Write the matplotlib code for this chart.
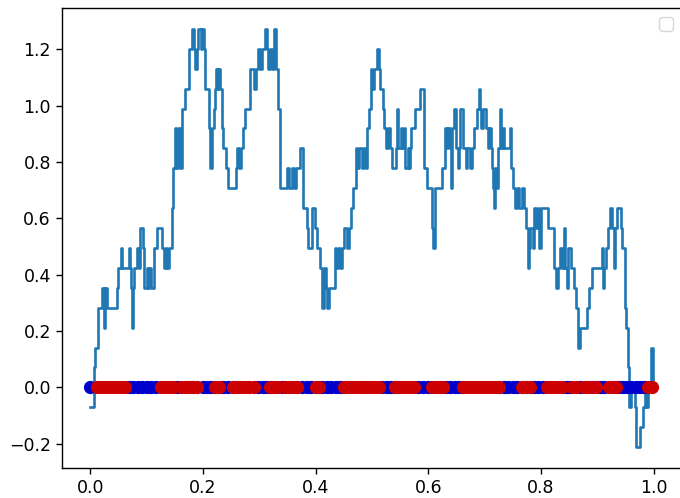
import numpy as np
import matplotlib
matplotlib.use('Agg')
import matplotlib.pyplot as plt

# ── Step path: jump positions and level (in units of one step) ───────────────
step = 0.0707

path_x = [
    0.000, 0.006, 0.008, 0.013, 0.021, 0.024, 0.025, 0.027, 0.030, 0.047,
    0.050, 0.054, 0.057, 0.069, 0.071, 0.073, 0.074, 0.076, 0.078, 0.083,
    0.087, 0.089, 0.093, 0.096, 0.100, 0.102, 0.105, 0.108, 0.113, 0.119,
    0.127, 0.131, 0.134, 0.137, 0.140, 0.145, 0.147, 0.151, 0.153, 0.156,
    0.159, 0.163, 0.168, 0.176, 0.181, 0.184, 0.186, 0.189, 0.192, 0.196,
    0.198, 0.202, 0.204, 0.210, 0.212, 0.216, 0.219, 0.221, 0.224, 0.226,
    0.227, 0.230, 0.233, 0.235, 0.239, 0.241, 0.245, 0.258, 0.261, 0.264,
    0.267, 0.272, 0.275, 0.284, 0.291, 0.294, 0.297, 0.301, 0.304, 0.310,
    0.313, 0.316, 0.319, 0.322, 0.326, 0.330, 0.334, 0.337, 0.349, 0.352,
    0.358, 0.361, 0.365, 0.373, 0.377, 0.378, 0.384, 0.387, 0.393, 0.399,
    0.402, 0.407, 0.411, 0.412, 0.415, 0.418, 0.420, 0.423, 0.434, 0.437,
    0.440, 0.443, 0.446, 0.450, 0.455, 0.459, 0.462, 0.466, 0.472, 0.474,
    0.477, 0.482, 0.485, 0.490, 0.492, 0.495, 0.498, 0.500, 0.503, 0.508,
    0.513, 0.515, 0.519, 0.521, 0.525, 0.529, 0.532, 0.535, 0.543, 0.545,
    0.547, 0.551, 0.553, 0.557, 0.559, 0.563, 0.565, 0.567, 0.570, 0.576,
    0.585, 0.593, 0.597, 0.606, 0.609, 0.611, 0.625, 0.630, 0.633, 0.635,
    0.638, 0.640, 0.642, 0.645, 0.649, 0.652, 0.654, 0.657, 0.662, 0.667,
    0.669, 0.673, 0.677, 0.681, 0.686, 0.689, 0.691, 0.694, 0.697, 0.702,
    0.705, 0.708, 0.711, 0.713, 0.715, 0.717, 0.719, 0.721, 0.723, 0.727,
    0.729, 0.732, 0.734, 0.744, 0.746, 0.751, 0.754, 0.758, 0.761, 0.767,
    0.770, 0.774, 0.777, 0.779, 0.781, 0.785, 0.788, 0.791, 0.794, 0.797,
    0.799, 0.813, 0.823, 0.826, 0.830, 0.833, 0.837, 0.840, 0.842, 0.846,
    0.848, 0.853, 0.859, 0.862, 0.866, 0.869, 0.882, 0.885, 0.890, 0.908,
    0.910, 0.912, 0.915, 0.919, 0.923, 0.926, 0.929, 0.932, 0.934, 0.941,
    0.944, 0.948, 0.951, 0.954, 0.956, 0.960, 0.966, 0.969, 0.976, 0.980,
    0.984, 0.987, 0.990, 0.995, 0.998, 1.000,
]

path_k = [
    -1, 1, 2, 4, 5, 4, 3, 5, 4, 5,
    6, 7, 6, 7, 6, 5, 3, 5, 6, 7,
    6, 8, 7, 5, 6, 5, 6, 5, 7, 8,
    7, 6, 7, 6, 7, 9, 11, 13, 11, 13,
    11, 14, 15, 17, 18, 17, 16, 17, 18, 17,
    18, 17, 15, 13, 11, 13, 14, 15, 16, 15,
    16, 15, 13, 12, 12, 11, 10, 11, 12, 11,
    12, 13, 14, 16, 15, 16, 17, 16, 17, 18,
    17, 16, 17, 16, 18, 16, 14, 10, 11, 10,
    11, 10, 11, 12, 11, 9, 8, 7, 9, 8,
    7, 6, 5, 4, 6, 5, 4, 5, 7, 6,
    7, 6, 7, 8, 7, 8, 9, 10, 12, 11,
    12, 11, 12, 11, 13, 14, 16, 15, 16, 17,
    16, 15, 14, 13, 12, 13, 12, 11, 12, 14,
    12, 13, 12, 13, 11, 12, 11, 12, 13, 14,
    15, 11, 10, 8, 7, 10, 11, 13, 12, 13,
    12, 10, 13, 14, 12, 11, 12, 14, 12, 11,
    12, 11, 12, 13, 14, 15, 14, 13, 14, 13,
    12, 13, 12, 11, 10, 9, 11, 10, 12, 14,
    12, 13, 12, 13, 11, 10, 9, 10, 9, 10,
    9, 8, 6, 7, 8, 7, 9, 8, 9, 7,
    9, 8, 6, 5, 6, 7, 6, 8, 6, 5,
    7, 6, 5, 4, 2, 3, 4, 5, 6, 7,
    5, 6, 7, 8, 9, 8, 6, 8, 9, 8,
    7, 4, 3, 1, -1, 0, -1, -3, -2, -1,
    0, -1, 0, 2, 0, 0,
]

# ── Sample points on the baseline ────────────────────────────────────────────
blue_x = [
    0.000, 0.068, 0.076, 0.084, 0.092, 0.100, 0.108, 0.116, 0.154, 0.200,
    0.208, 0.215, 0.236, 0.245, 0.298, 0.307, 0.312, 0.340, 0.376, 0.384,
    0.392, 0.412, 0.420, 0.428, 0.436, 0.443, 0.518, 0.526, 0.534, 0.581,
    0.590, 0.599, 0.631, 0.639, 0.647, 0.655, 0.734, 0.742, 0.750, 0.758,
    0.787, 0.795, 0.803, 0.844, 0.849, 0.869, 0.905, 0.912, 0.938, 0.946,
    0.953, 0.960, 0.968, 0.975, 0.982,
]
red_x = [
    0.012, 0.019, 0.026, 0.033, 0.040, 0.047, 0.054, 0.061, 0.126, 0.133,
    0.140, 0.147, 0.162, 0.169, 0.176, 0.183, 0.190, 0.222, 0.229, 0.254,
    0.261, 0.268, 0.275, 0.282, 0.290, 0.319, 0.326, 0.333, 0.346, 0.353,
    0.360, 0.367, 0.400, 0.406, 0.450, 0.457, 0.464, 0.471, 0.478, 0.485,
    0.492, 0.499, 0.506, 0.512, 0.541, 0.548, 0.555, 0.562, 0.569, 0.575,
    0.606, 0.613, 0.620, 0.626, 0.662, 0.669, 0.676, 0.683, 0.690, 0.697,
    0.704, 0.711, 0.718, 0.725, 0.766, 0.773, 0.780, 0.810, 0.817, 0.824,
    0.831, 0.837, 0.854, 0.862, 0.877, 0.884, 0.891, 0.898, 0.920, 0.927,
    0.933, 0.990, 0.997,
]

path_y = np.array(path_k) * step

fig = plt.figure(figsize=(6.8, 4.98), dpi=100)
ax = fig.add_axes([62 / 680, 30 / 498, 620 / 680, 460 / 498])

ax.step(path_x, path_y, where='post', color='#1f77b4', lw=1.9)
ax.plot(blue_x, np.zeros(len(blue_x)), 'o', color='#0000cc', ms=8.5)
ax.plot(red_x, np.zeros(len(red_x)), 'o', color='#cc0000', ms=8.5)

ax.set_xticks([0.0, 0.2, 0.4, 0.6, 0.8, 1.0])
ax.set_yticks([-0.2, 0.0, 0.2, 0.4, 0.6, 0.8, 1.0, 1.2])
ax.tick_params(labelsize=12.5, length=4.5, width=1.0)
for s in ax.spines.values():
    s.set_linewidth(1.0)

ax.legend(handles=[], loc='upper right', fontsize=12.5)

fig.savefig('out.png', dpi=100)
